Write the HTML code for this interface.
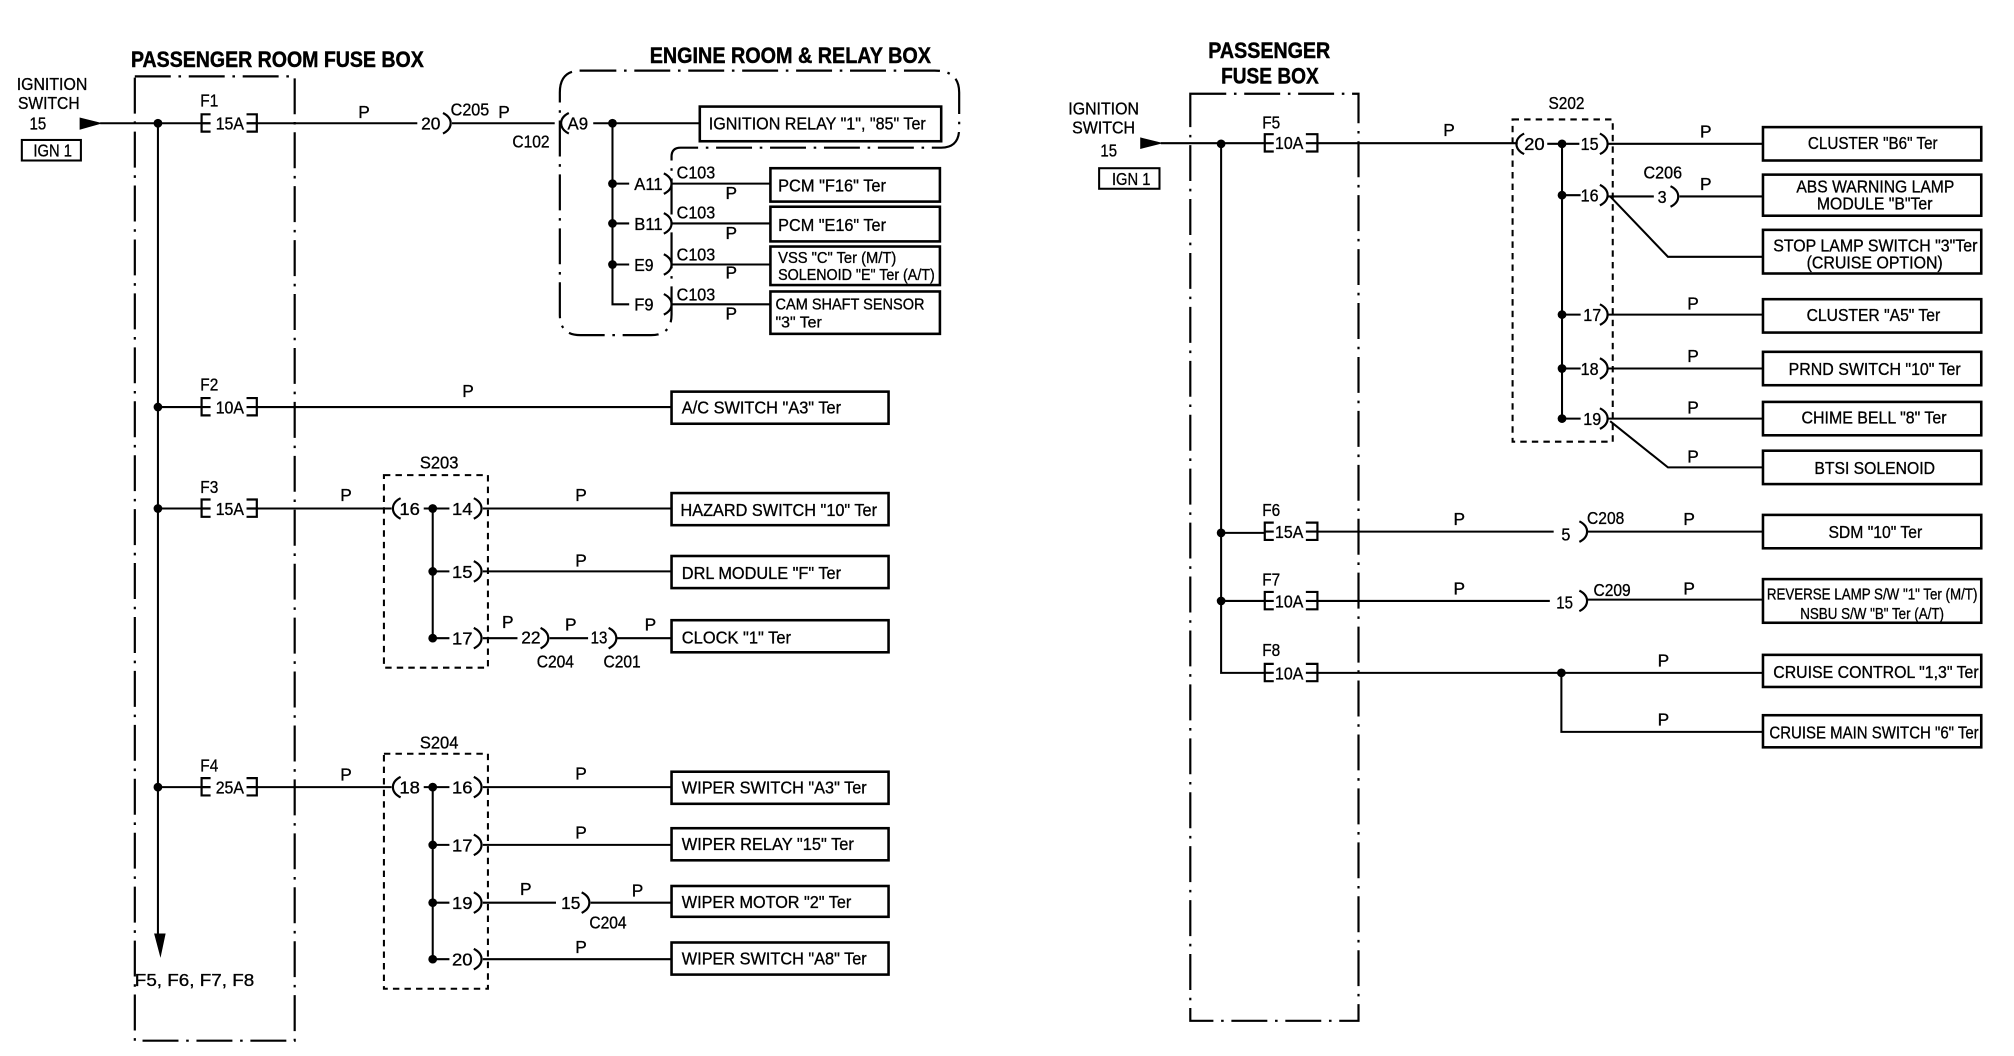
<!DOCTYPE html>
<html>
<head>
<meta charset="utf-8">
<title>Wiring diagram</title>
<style>
html,body{margin:0;padding:0;background:#fff}
svg{display:block}
text{font-family:"Liberation Sans",sans-serif;font-size:13.5px;fill:#000;stroke:#000;stroke-width:.25}
.t{font-size:17px;font-weight:bold;stroke-width:.35}
.w{fill:none;stroke:#000;stroke-width:1.6}
.b{fill:#fff;stroke:#000;stroke-width:2}
.d{fill:none;stroke:#000;stroke-width:1.7;stroke-dasharray:28 6 2 6}
.s{fill:none;stroke:#000;stroke-width:1.6;stroke-dasharray:5 4}
.p{fill:none;stroke:#000;stroke-width:1.7}
</style>
</head>
<body>
<svg xmlns="http://www.w3.org/2000/svg" width="2014" height="1056" viewBox="0 0 1568.5 822.4" preserveAspectRatio="none">
<defs>
<path id="r" class="p" d="M-3,-8 Q3,-5 3,0 Q3,5 -3,8"/>
<path id="l" class="p" d="M3,-8 Q-3,-5 -3,0 Q-3,5 3,8"/>
<circle id="o" r="3.4" fill="#000"/>
<path id="f" class="p" d="M164,-7 H157 V6.5 H164 M157,0 H164 M192,-7 H200 V6.5 H192 M192,0 H200"/>
<path id="g" class="p" d="M992,-7 H985 V6.5 H992 M985,0 H992 M1017,-7 H1026 V6.5 H1017 M1017,0 H1026"/>
</defs>

<!-- LEFT DIAGRAM -->
<text class="t" x="102" y="52" textLength="228" lengthAdjust="spacingAndGlyphs">PASSENGER ROOM FUSE BOX</text>
<text class="t" x="506" y="49" textLength="219" lengthAdjust="spacingAndGlyphs">ENGINE ROOM &amp; RELAY BOX</text>
<rect class="d" x="105" y="59.5" width="124.500" height="751"/>
<path class="d" d="M452,55 H728 Q747,55 747,72 V100 Q747,115 733,115 H530 Q523,115 523,122 V245 Q523,261 507,261 H452 Q436,261 436,245 V72 Q436,55 452,55 Z"/>
<rect class="s" x="299" y="370" width="81" height="150"/>
<rect class="s" x="299" y="587" width="81" height="183"/>

<text x="13" y="70" textLength="55" lengthAdjust="spacingAndGlyphs">IGNITION</text>
<text x="14" y="85" textLength="48" lengthAdjust="spacingAndGlyphs">SWITCH</text>
<text x="23" y="101" textLength="13" lengthAdjust="spacingAndGlyphs">15</text>
<rect class="w" x="17" y="109" width="46" height="16" stroke-width="2"/>
<text x="26" y="122" textLength="30" lengthAdjust="spacingAndGlyphs">IGN 1</text>
<path d="M62,91.500 L80,96 L62,101 Z" fill="#000"/>
<path class="w" d="M78,96 H157 M200,96 H325 M352,96 H432 M462,96 H545 M123,96 V730 M123,317 H157 M200,317 H523 M123,396 H157 M200,396 H305 M123,613 H157 M200,613 H305 M477,96 V237 H490 M477,143 H490 M477,174 H490 M477,206 H490 M523,143 H600 M523,174 H600 M523,206 H600 M523,237 H600"/>
<path d="M120,727 H129 L125,746 Z" fill="#000"/>
<use href="#o" x="123" y="96"/><use href="#o" x="123" y="317"/><use href="#o" x="123" y="396"/><use href="#o" x="123" y="613"/>
<use href="#f" y="96"/><use href="#f" y="317"/><use href="#f" y="396"/><use href="#f" y="613"/>
<text x="156" y="83" textLength="14" lengthAdjust="spacingAndGlyphs">F1</text><text x="168" y="101" textLength="22" lengthAdjust="spacingAndGlyphs">15A</text>
<text x="156" y="304" textLength="14" lengthAdjust="spacingAndGlyphs">F2</text><text x="168" y="322" textLength="22" lengthAdjust="spacingAndGlyphs">10A</text>
<text x="156" y="384" textLength="14" lengthAdjust="spacingAndGlyphs">F3</text><text x="168" y="401" textLength="22" lengthAdjust="spacingAndGlyphs">15A</text>
<text x="156" y="601" textLength="14" lengthAdjust="spacingAndGlyphs">F4</text><text x="168" y="618" textLength="22" lengthAdjust="spacingAndGlyphs">25A</text>
<text x="105" y="768" textLength="93" lengthAdjust="spacingAndGlyphs">F5, F6, F7, F8</text>

<text x="279" y="92">P</text><text x="328" y="101" textLength="15" lengthAdjust="spacingAndGlyphs">20</text><use href="#r" x="348" y="96"/>
<text x="351" y="90" textLength="30" lengthAdjust="spacingAndGlyphs">C205</text><text x="388" y="92">P</text>
<text x="399" y="115" textLength="29" lengthAdjust="spacingAndGlyphs">C102</text>
<use href="#l" x="440" y="96"/><text x="442" y="101" textLength="16" lengthAdjust="spacingAndGlyphs">A9</text>
<use href="#o" x="477" y="96"/><use href="#o" x="477" y="143"/><use href="#o" x="477" y="174"/><use href="#o" x="477" y="206"/>
<rect class="b" x="545" y="83" width="188" height="27"/>
<text x="552" y="101" textLength="169" lengthAdjust="spacingAndGlyphs">IGNITION RELAY "1", "85" Ter</text>

<text x="494" y="148" textLength="22" lengthAdjust="spacingAndGlyphs">A11</text><use href="#r" x="520" y="143"/>
<text x="494" y="179" textLength="22" lengthAdjust="spacingAndGlyphs">B11</text><use href="#r" x="520" y="174"/>
<text x="494" y="211" textLength="15" lengthAdjust="spacingAndGlyphs">E9</text><use href="#r" x="520" y="206"/>
<text x="494" y="242" textLength="15" lengthAdjust="spacingAndGlyphs">F9</text><use href="#r" x="520" y="237"/>
<text x="527" y="139" textLength="30" lengthAdjust="spacingAndGlyphs">C103</text><text x="565" y="155">P</text>
<text x="527" y="170" textLength="30" lengthAdjust="spacingAndGlyphs">C103</text><text x="565" y="186">P</text>
<text x="527" y="203" textLength="30" lengthAdjust="spacingAndGlyphs">C103</text><text x="565" y="217">P</text>
<text x="527" y="234" textLength="30" lengthAdjust="spacingAndGlyphs">C103</text><text x="565" y="249">P</text>
<rect class="b" x="600" y="131" width="132" height="26"/>
<text x="606" y="149" textLength="84" lengthAdjust="spacingAndGlyphs">PCM "F16" Ter</text>
<rect class="b" x="600" y="161" width="132" height="27"/>
<text x="606" y="180" textLength="84" lengthAdjust="spacingAndGlyphs">PCM "E16" Ter</text>
<rect class="b" x="600" y="192" width="132" height="30"/>
<text x="606" y="205" style="font-size:12px" textLength="92" lengthAdjust="spacingAndGlyphs">VSS "C" Ter (M/T)</text>
<text x="606" y="218" style="font-size:12px" textLength="122" lengthAdjust="spacingAndGlyphs">SOLENOID "E" Ter (A/T)</text>
<rect class="b" x="600" y="227" width="132" height="33"/>
<text x="604" y="241" style="font-size:12px" textLength="116" lengthAdjust="spacingAndGlyphs">CAM SHAFT SENSOR</text>
<text x="604" y="255" style="font-size:12px" textLength="36" lengthAdjust="spacingAndGlyphs">"3" Ter</text>

<text x="360" y="309">P</text>
<rect class="b" x="523" y="305" width="169" height="25"/>
<text x="531" y="322" textLength="124" lengthAdjust="spacingAndGlyphs">A/C SWITCH "A3" Ter</text>

<!-- S203 -->
<text x="327" y="365" textLength="30" lengthAdjust="spacingAndGlyphs">S203</text>
<text x="265" y="390">P</text>
<use href="#l" x="309" y="396"/><text x="311" y="401" textLength="16" lengthAdjust="spacingAndGlyphs">16</text>
<path class="w" d="M330,396 H350 M337,396 V497 M337,445 H350 M337,497 H350 M376,396 H523 M376,445 H523 M376,497 H403 M428,497 H458 M480,497 H523"/>
<use href="#o" x="337" y="396"/><use href="#o" x="337" y="445"/><use href="#o" x="337" y="497"/>
<text x="352" y="401" textLength="16" lengthAdjust="spacingAndGlyphs">14</text><use href="#r" x="372" y="396"/>
<text x="352" y="450" textLength="16" lengthAdjust="spacingAndGlyphs">15</text><use href="#r" x="372" y="445"/>
<text x="352" y="502" textLength="16" lengthAdjust="spacingAndGlyphs">17</text><use href="#r" x="372" y="497"/>
<text x="448" y="390">P</text><text x="448" y="441">P</text>
<text x="391" y="489">P</text><text x="406" y="501" textLength="15" lengthAdjust="spacingAndGlyphs">22</text><use href="#r" x="424" y="497"/>
<text x="440" y="491">P</text><text x="460" y="501" textLength="13" lengthAdjust="spacingAndGlyphs">13</text><use href="#r" x="477" y="497"/>
<text x="502" y="491">P</text>
<text x="418" y="520" textLength="29" lengthAdjust="spacingAndGlyphs">C204</text><text x="470" y="520" textLength="29" lengthAdjust="spacingAndGlyphs">C201</text>
<rect class="b" x="523" y="384" width="169" height="25"/>
<text x="530" y="402" textLength="153" lengthAdjust="spacingAndGlyphs">HAZARD SWITCH "10" Ter</text>
<rect class="b" x="523" y="433" width="169" height="25"/>
<text x="531" y="451" textLength="124" lengthAdjust="spacingAndGlyphs">DRL MODULE "F" Ter</text>
<rect class="b" x="523" y="483" width="169" height="25"/>
<text x="531" y="501" textLength="85" lengthAdjust="spacingAndGlyphs">CLOCK "1" Ter</text>

<!-- S204 -->
<text x="327" y="583" textLength="30" lengthAdjust="spacingAndGlyphs">S204</text>
<text x="265" y="608">P</text>
<use href="#l" x="309" y="613"/><text x="311" y="618" textLength="16" lengthAdjust="spacingAndGlyphs">18</text>
<path class="w" d="M330,613 H350 M337,613 V747 M337,658 H350 M337,703 H350 M337,747 H350 M376,613 H523 M376,658 H523 M376,703 H433 M460,703 H523 M376,747 H523"/>
<use href="#o" x="337" y="613"/><use href="#o" x="337" y="658"/><use href="#o" x="337" y="703"/><use href="#o" x="337" y="747"/>
<text x="352" y="618" textLength="16" lengthAdjust="spacingAndGlyphs">16</text><use href="#r" x="372" y="613"/>
<text x="352" y="663" textLength="16" lengthAdjust="spacingAndGlyphs">17</text><use href="#r" x="372" y="658"/>
<text x="352" y="708" textLength="16" lengthAdjust="spacingAndGlyphs">19</text><use href="#r" x="372" y="703"/>
<text x="352" y="752" textLength="16" lengthAdjust="spacingAndGlyphs">20</text><use href="#r" x="372" y="747"/>
<text x="448" y="607">P</text><text x="448" y="653">P</text><text x="448" y="742">P</text>
<text x="405" y="697">P</text><text x="437" y="708" textLength="15" lengthAdjust="spacingAndGlyphs">15</text><use href="#r" x="456" y="703"/>
<text x="492" y="698">P</text><text x="459" y="723" textLength="29" lengthAdjust="spacingAndGlyphs">C204</text>
<rect class="b" x="523" y="601" width="169" height="25"/>
<text x="531" y="618" textLength="144" lengthAdjust="spacingAndGlyphs">WIPER SWITCH "A3" Ter</text>
<rect class="b" x="523" y="645" width="169" height="25"/>
<text x="531" y="662" textLength="134" lengthAdjust="spacingAndGlyphs">WIPER RELAY "15" Ter</text>
<rect class="b" x="523" y="690" width="169" height="24"/>
<text x="531" y="707" textLength="132" lengthAdjust="spacingAndGlyphs">WIPER MOTOR "2" Ter</text>
<rect class="b" x="523" y="734" width="169" height="25"/>
<text x="531" y="751" textLength="144" lengthAdjust="spacingAndGlyphs">WIPER SWITCH "A8" Ter</text>

<!-- RIGHT DIAGRAM -->
<text class="t" x="941" y="45" textLength="95" lengthAdjust="spacingAndGlyphs">PASSENGER</text>
<text class="t" x="951" y="65" textLength="76" lengthAdjust="spacingAndGlyphs">FUSE BOX</text>
<rect class="d" x="927" y="73" width="131" height="722"/>
<rect class="s" x="1178" y="93" width="78" height="251"/>
<text x="1206" y="85" textLength="28" lengthAdjust="spacingAndGlyphs">S202</text>

<text x="832" y="89" textLength="55" lengthAdjust="spacingAndGlyphs">IGNITION</text>
<text x="835" y="104" textLength="49" lengthAdjust="spacingAndGlyphs">SWITCH</text>
<text x="857" y="122" textLength="13" lengthAdjust="spacingAndGlyphs">15</text>
<rect class="w" x="856" y="131" width="47" height="16"/>
<text x="866" y="144" textLength="30" lengthAdjust="spacingAndGlyphs">IGN 1</text>
<path d="M888,107 L906,111.500 L888,116 Z" fill="#000"/>
<path class="w" d="M904,111.500 H985 M1026,111.500 H1182 M951,111.500 V524 H985 M951,415 H985 M951,468 H985 M1026,414 H1210 M1026,468 H1207 M1026,524 H1373 M1216,524 V570 H1373 M1236,414 H1373 M1236,467 H1373 M1205,112 H1230 M1216.500,112 V326 M1216.500,152 H1231 M1216.500,245 H1231 M1216.500,287 H1231 M1216.500,326 H1231 M1252,112 H1373 M1252,153 H1288 M1308,153 H1373 M1254,153 L1299,200 H1373 M1252,245 H1373 M1252,287 H1373 M1252,326 H1373 M1254,328 L1299,364 H1373"/>
<use href="#o" x="951" y="112"/><use href="#o" x="951" y="415"/><use href="#o" x="951" y="468"/><use href="#o" x="1216" y="524"/>
<use href="#o" x="1216.500" y="112"/><use href="#o" x="1216.500" y="152"/><use href="#o" x="1216.500" y="245"/><use href="#o" x="1216.500" y="287"/><use href="#o" x="1216.500" y="326"/>
<use href="#g" y="111.500"/><use href="#g" y="414"/><use href="#g" y="468"/><use href="#g" y="524"/>
<text x="983" y="100" textLength="14" lengthAdjust="spacingAndGlyphs">F5</text><text x="993" y="116" textLength="22" lengthAdjust="spacingAndGlyphs">10A</text>
<text x="983" y="402" textLength="14" lengthAdjust="spacingAndGlyphs">F6</text><text x="993" y="419" textLength="22" lengthAdjust="spacingAndGlyphs">15A</text>
<text x="983" y="456" textLength="14" lengthAdjust="spacingAndGlyphs">F7</text><text x="993" y="473" textLength="22" lengthAdjust="spacingAndGlyphs">10A</text>
<text x="983" y="511" textLength="14" lengthAdjust="spacingAndGlyphs">F8</text><text x="993" y="529" textLength="22" lengthAdjust="spacingAndGlyphs">10A</text>

<text x="1124" y="106">P</text>
<use href="#l" x="1184" y="112"/><text x="1187" y="117" textLength="16" lengthAdjust="spacingAndGlyphs">20</text>
<text x="1231" y="117" textLength="14" lengthAdjust="spacingAndGlyphs">15</text><use href="#r" x="1249" y="112"/>
<text x="1231" y="157" textLength="14" lengthAdjust="spacingAndGlyphs">16</text><use href="#r" x="1249" y="152"/>
<text x="1233" y="250" textLength="14" lengthAdjust="spacingAndGlyphs">17</text><use href="#r" x="1249" y="245"/>
<text x="1231" y="292" textLength="14" lengthAdjust="spacingAndGlyphs">18</text><use href="#r" x="1249" y="287"/>
<text x="1233" y="331" textLength="14" lengthAdjust="spacingAndGlyphs">19</text><use href="#r" x="1249" y="326"/>
<text x="1291" y="158" textLength="7" lengthAdjust="spacingAndGlyphs">3</text><use href="#r" x="1304" y="153"/>
<text x="1280" y="139" textLength="30" lengthAdjust="spacingAndGlyphs">C206</text>
<text x="1324" y="107">P</text><text x="1324" y="148">P</text><text x="1314" y="241">P</text><text x="1314" y="282">P</text><text x="1314" y="322">P</text><text x="1314" y="360">P</text>

<text x="1132" y="409">P</text><text x="1216" y="421" textLength="7" lengthAdjust="spacingAndGlyphs">5</text><use href="#r" x="1233" y="414"/>
<text x="1236" y="408" textLength="29" lengthAdjust="spacingAndGlyphs">C208</text><text x="1311" y="409">P</text>
<text x="1132" y="463">P</text><text x="1212" y="474" textLength="13" lengthAdjust="spacingAndGlyphs">15</text><use href="#r" x="1233" y="468"/>
<text x="1241" y="464" textLength="29" lengthAdjust="spacingAndGlyphs">C209</text><text x="1311" y="463">P</text>
<text x="1291" y="519">P</text><text x="1291" y="565">P</text>

<rect class="b" x="1373" y="99" width="170" height="26"/>
<text x="1408" y="116" textLength="101" lengthAdjust="spacingAndGlyphs">CLUSTER "B6" Ter</text>
<rect class="b" x="1373" y="136" width="170" height="32"/>
<text x="1399" y="150" textLength="123" lengthAdjust="spacingAndGlyphs">ABS WARNING LAMP</text>
<text x="1415" y="163" textLength="90" lengthAdjust="spacingAndGlyphs">MODULE "B"Ter</text>
<rect class="b" x="1373" y="179" width="170" height="34"/>
<text x="1381" y="196" textLength="159" lengthAdjust="spacingAndGlyphs">STOP LAMP SWITCH "3"Ter</text>
<text x="1407" y="209" textLength="106" lengthAdjust="spacingAndGlyphs">(CRUISE OPTION)</text>
<rect class="b" x="1373" y="233" width="170" height="26"/>
<text x="1407" y="250" textLength="104" lengthAdjust="spacingAndGlyphs">CLUSTER "A5" Ter</text>
<rect class="b" x="1373" y="274" width="170" height="26"/>
<text x="1393" y="292" textLength="134" lengthAdjust="spacingAndGlyphs">PRND SWITCH "10" Ter</text>
<rect class="b" x="1373" y="313" width="170" height="26"/>
<text x="1403" y="330" textLength="113" lengthAdjust="spacingAndGlyphs">CHIME BELL "8" Ter</text>
<rect class="b" x="1373" y="351" width="170" height="26"/>
<text x="1413" y="369" textLength="94" lengthAdjust="spacingAndGlyphs">BTSI SOLENOID</text>
<rect class="b" x="1373" y="401" width="170" height="26"/>
<text x="1424" y="419" textLength="73" lengthAdjust="spacingAndGlyphs">SDM "10" Ter</text>
<rect class="b" x="1373" y="451" width="170" height="34"/>
<text x="1376" y="467" style="font-size:12px" textLength="164" lengthAdjust="spacingAndGlyphs">REVERSE LAMP S/W "1" Ter (M/T)</text>
<text x="1402" y="482" style="font-size:12px" textLength="112" lengthAdjust="spacingAndGlyphs">NSBU S/W "B" Ter (A/T)</text>
<rect class="b" x="1373" y="510" width="170" height="25"/>
<text x="1381" y="528" textLength="160" lengthAdjust="spacingAndGlyphs">CRUISE CONTROL "1,3" Ter</text>
<rect class="b" x="1373" y="557" width="170" height="25"/>
<text x="1378" y="575" textLength="163" lengthAdjust="spacingAndGlyphs">CRUISE MAIN SWITCH "6" Ter</text>
</svg>
</body>
</html>
